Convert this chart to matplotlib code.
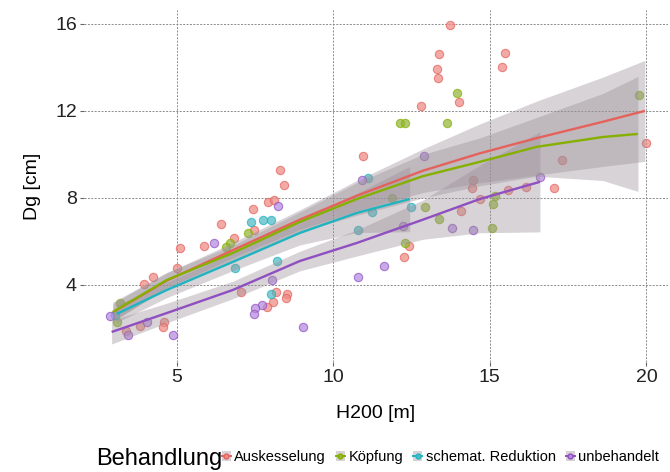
import matplotlib
matplotlib.use("Agg")
import matplotlib.pyplot as plt
from matplotlib.lines import Line2D
from matplotlib.patches import Patch
from matplotlib.legend_handler import HandlerTuple
import numpy as np

plt.rcParams['font.family'] = ['Liberation Sans', 'DejaVu Sans']

groups = ["Auskesselung", "Köpfung", "schemat. Reduktion", "unbehandelt"]

# scatter points (H200 [m], Dg [cm])
red_x = [13.72, 13.37, 13.31, 13.34, 12.80, 14.01, 15.48, 15.38, 19.98, 17.30, 14.42, 14.46,
         15.57, 16.15, 17.05, 14.68, 14.07, 12.41, 12.25, 10.94, 8.29, 8.42, 7.91, 8.10, 7.43,
         6.41, 7.46, 6.82, 5.86, 5.10, 5.00, 4.23, 3.95, 7.04, 8.16, 8.51, 8.48, 8.07, 7.88,
         4.58, 4.55, 3.82, 3.37]
red_y = [15.95, 14.62, 13.93, 13.52, 12.23, 12.41, 14.65, 14.02, 10.53, 9.75, 8.46, 8.83,
         8.37, 8.51, 8.46, 7.95, 7.40, 5.79, 5.29, 9.93, 9.29, 8.60, 7.82, 7.91, 7.49,
         6.80, 6.53, 6.16, 5.79, 5.70, 4.78, 4.37, 4.05, 3.68, 3.68, 3.59, 3.40, 3.22, 2.99,
         2.30, 2.07, 2.11, 1.89]
green_x = [12.13, 12.28, 13.63, 13.95, 19.76, 11.87, 12.92, 13.37, 12.28, 15.10, 15.16, 15.06,
           7.27, 6.69, 6.57, 3.08, 3.18]
green_y = [11.45, 11.45, 11.45, 12.83, 12.74, 8.00, 7.59, 7.03, 5.93, 7.72, 8.09, 6.62,
           6.39, 5.93, 5.75, 2.30, 3.17]
teal_x = [7.36, 7.75, 8.00, 8.19, 8.00, 6.85, 11.10, 12.48, 10.78, 11.23, 3.02]
teal_y = [6.90, 6.99, 6.99, 5.10, 3.59, 4.78, 8.92, 7.59, 6.53, 7.36, 2.60]
purple_x = [8.23, 6.18, 8.03, 7.72, 7.49, 7.46, 4.87, 4.04, 3.43, 2.86, 12.89, 10.91, 12.22,
            13.79, 14.46, 11.61, 10.78, 16.60, 9.03]
purple_y = [7.63, 5.93, 4.23, 3.08, 2.94, 2.67, 1.70, 2.30, 1.70, 2.57, 9.93, 8.83, 6.71,
            6.62, 6.53, 4.87, 4.37, 8.97, 2.07]

# smoothed fits: x, fitted y, and CI half-width
red_fx = [2.96, 4.68, 6.79, 8.93, 10.75, 12.86, 14.68, 16.50, 18.61, 19.95]
red_fy = [2.75, 4.20, 5.60, 7.00, 8.10, 9.25, 10.05, 10.75, 11.50, 12.00]
red_hw = [0.40, 0.35, 0.35, 0.45, 0.70, 1.00, 1.35, 1.70, 2.05, 2.32]
green_fx = [2.96, 4.68, 6.79, 8.93, 10.75, 12.86, 14.68, 16.50, 18.61, 19.73]
green_fy = [2.76, 4.23, 5.47, 6.90, 7.95, 9.00, 9.66, 10.35, 10.80, 10.94]
green_hw = [0.45, 0.35, 0.35, 0.45, 0.75, 1.00, 1.10, 1.35, 2.00, 2.64]
teal_fx = [3.08, 4.68, 6.79, 8.93, 10.75, 12.44]
teal_fy = [2.67, 3.77, 5.06, 6.39, 7.31, 7.95]
teal_hw = [0.40, 0.35, 0.40, 0.55, 0.90, 1.50]
purple_fx = [2.92, 4.68, 6.79, 8.93, 10.75, 12.86, 14.68, 16.60]
purple_fy = [1.84, 2.71, 3.77, 5.10, 5.93, 7.00, 7.95, 8.74]
purple_hw = [0.55, 0.45, 0.40, 0.45, 0.60, 0.90, 1.55, 2.30]

x_ticks = [5, 10, 15, 20]
y_ticks = [4, 8, 12, 16]

pt_colors = ["#ee8a84", "#93b63a", "#4fb9c4", "#b48ae0"]
ln_colors = ["#e5625c", "#86b000", "#1fb4c0", "#8f4fc0"]
band_color = "#9b9199"

fig = plt.figure(figsize=(6.7, 4.72), dpi=100)
ax = fig.add_axes([0.125, 0.233, 0.872, 0.746])

pts = [(red_x, red_y), (green_x, green_y), (teal_x, teal_y), (purple_x, purple_y)]
fits = [(red_fx, red_fy, red_hw), (green_fx, green_fy, green_hw),
        (teal_fx, teal_fy, teal_hw), (purple_fx, purple_fy, purple_hw)]

for (px, py), c, lc in zip(pts, pt_colors, ln_colors):
    ax.scatter(px, py, s=36, color=c, alpha=0.72, edgecolors=lc, linewidths=0.8, zorder=2)

for (fx, fy, hw) in fits:
    fy_a = np.array(fy); hw_a = np.array(hw)
    ax.fill_between(fx, fy_a - hw_a, fy_a + hw_a, color=band_color, alpha=0.4, lw=0, zorder=3)

for (fx, fy, hw), lc in zip(fits, ln_colors):
    ax.plot(fx, fy, color=lc, lw=1.7, zorder=4, solid_capstyle='butt')

ax.set_xlim(2.03, 20.69)
ax.set_ylim(0.46, 16.64)
ax.set_xticks(x_ticks)
ax.set_yticks(y_ticks)
ax.set_xticklabels([str(v) for v in x_ticks], fontsize=14)
ax.set_yticklabels([str(v) for v in y_ticks], fontsize=14)
ax.grid(True, color="#8a8a8a", linestyle=(0, (2, 1.5)), linewidth=0.7, zorder=0)
ax.set_axisbelow(True)
for s in ax.spines.values():
    s.set_visible(False)
ax.tick_params(axis='both', length=3, color="#666666", labelcolor="#222222", pad=2)
ax.set_xlabel("H200 [m]", fontsize=14, labelpad=14)
ax.set_ylabel("Dg [cm]", fontsize=14, labelpad=10)

handles = [(Patch(facecolor="#d8d2d6", edgecolor="none"),
            Line2D([0], [0], color=lc, lw=1.4, marker='o', markersize=3.5,
                   markerfacecolor=c, markeredgecolor=lc))
           for c, lc in zip(pt_colors, ln_colors)]
fig.text(0.143, 0.027, "Behandlung", fontsize=17, ha='left', va='center')
leg = fig.legend(handles, groups, loc='center left', bbox_to_anchor=(0.331, 0.032), ncol=4,
                 frameon=False, fontsize=10.5, handlelength=0.6, handleheight=0.7,
                 handletextpad=0.25, columnspacing=0.7, borderpad=0, borderaxespad=0,
                 handler_map={tuple: HandlerTuple(ndivide=1, pad=0)})

fig.savefig("out.png", dpi=100)
